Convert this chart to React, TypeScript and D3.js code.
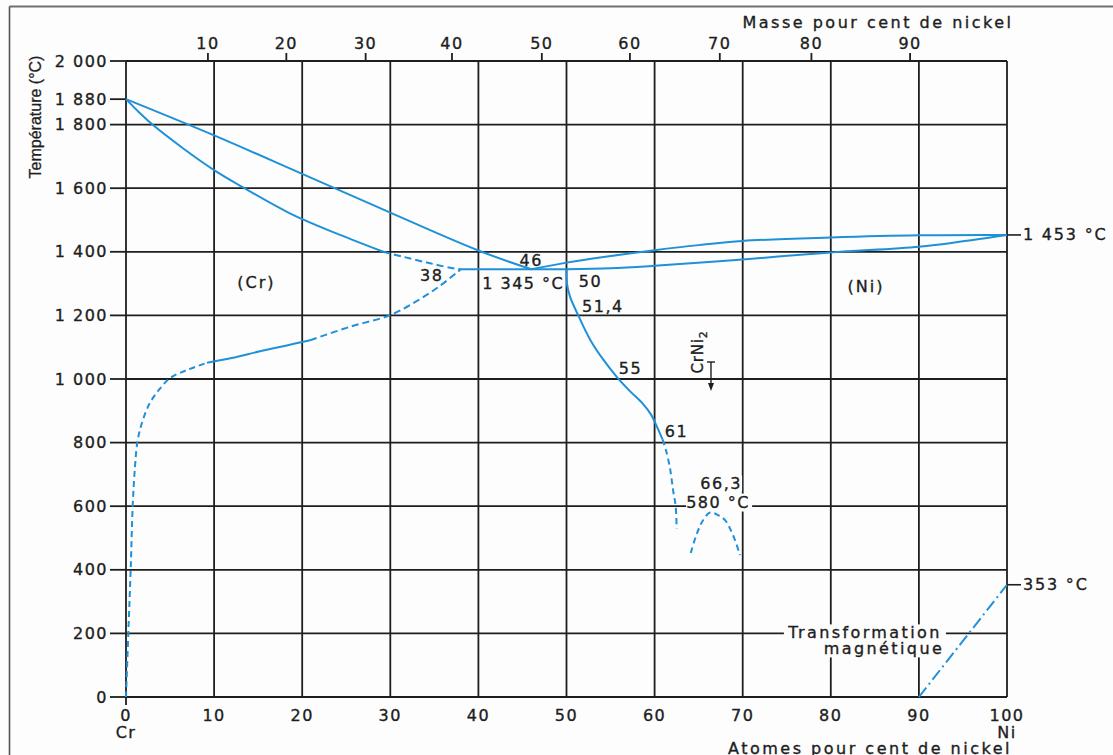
import React from 'react';
import * as d3 from 'd3';

// Cr–Ni phase diagram: temperature (°C) against atomic percent of nickel.
type Pt = [number, number];

const atomicTicks = [0, 10, 20, 30, 40, 50, 60, 70, 80, 90, 100];
const gridTemps = [0, 200, 400, 600, 800, 1000, 1200, 1400, 1600, 1800, 2000];
const tempTicks = [0, 200, 400, 600, 800, 1000, 1200, 1400, 1600, 1800, 1880, 2000];
// mass-percent scale on top, with the atomic-percent position of each tick
const massTickLabels = [10, 20, 30, 40, 50, 60, 70, 80, 90];
const massTickAtomic = [9.3, 18.2, 27.2, 37.0, 47.2, 57.2, 67.4, 77.8, 89.0];

// liquidus and solidus on the chromium side
const liquidusCr: Pt[] = [[0, 1880], [10, 1766], [20, 1645], [30, 1523], [40, 1404], [46, 1345]];
const solidusCr: Pt[] = [[0, 1880], [1.5, 1838], [3, 1800], [6.5, 1725], [10, 1657], [13.2, 1604], [18.6, 1521], [24.3, 1453], [29.2, 1400]];
const solidusCrDashed: Pt[] = [[29.2, 1400], [31.5, 1384], [34.5, 1364], [37.3, 1347], [38, 1345]];
// eutectic at 1 345 °C
const eutectic: Pt[] = [[38, 1345], [50, 1345]];
// liquidus and solidus on the nickel side
const liquidusNi: Pt[] = [[46, 1345], [50, 1366], [54, 1383], [60, 1405], [65, 1421], [70, 1434], [80, 1445], [90, 1452], [100, 1453]];
const solidusNi: Pt[] = [[50, 1345], [55, 1348], [60, 1356], [70, 1376], [80, 1398], [90, 1416], [95, 1433], [100, 1453]];
// solvus of the (Cr) solid solution
const solvusCrLow: Pt[] = [[0, 0], [0.26, 200], [0.53, 400], [0.76, 600], [1.02, 724], [1.3, 803], [1.8, 861], [2.7, 924], [3.9, 971], [5, 1003], [6.9, 1028], [9.2, 1051]];
const solvusCrMid: Pt[] = [[9.2, 1051], [12, 1066], [15.2, 1087], [18, 1104], [20.9, 1122]];
const solvusCrHigh: Pt[] = [[20.9, 1122], [25.4, 1164], [30, 1201], [33, 1245], [35.5, 1290], [38, 1345]];
// solvus of the (Ni) solid solution
const solvusNi: Pt[] = [[50, 1345], [50.05, 1300], [50.4, 1259], [51.4, 1196], [52.7, 1123], [54.2, 1060], [55.7, 1007], [57.2, 962], [58.6, 924], [59.6, 888], [60.3, 848], [60.9, 810]];
const solvusNiDashed: Pt[] = [[60.9, 810], [61.3, 775], [61.75, 719], [62.1, 650], [62.4, 598], [62.5, 530]];
// CrNi2 ordering dome, maximum at 66,3 / 580 °C
const crNi2Dome: Pt[] = [[64.1, 453], [64.8, 514], [65.5, 556], [66.3, 580], [67.2, 572], [68, 556], [68.9, 509], [69.7, 446]];
const crNi2At = 66.4;
// magnetic transformation of nickel
const magnetic: Pt[] = [[90, 0], [100, 353]];
const niMelting = 1453;
const niCurie = 353;

const W = 1113;
const H = 755;
const x = d3.scaleLinear().domain([0, 100]).range([126, 1007]);
const y = d3.scaleLinear().domain([0, 2000]).range([697, 61]);

const fr = d3.formatLocale({ decimal: ',', thousands: ' ', grouping: [3], currency: ['', ' €'] });
const fmt = fr.format(',');

const line = d3.line<Pt>().x(d => x(d[0])).y(d => y(d[1])).curve(d3.curveCatmullRom.alpha(0.5));
const straight = d3.line<Pt>().x(d => x(d[0])).y(d => y(d[1]));

const BLUE = '#1f91d8';
const INK = '#1e1e1e';
const FONT = 'DejaVu Sans, sans-serif';

const txt = (ls = 1.5) => ({ fontFamily: FONT, fontSize: 16, fill: INK, stroke: INK, strokeWidth: 0.35, letterSpacing: ls } as const);

export default function App() {
  const left = x(0), right = x(100), top = y(2000), bottom = y(0);
  const curve = (d: Pt[], dash?: string, gen = line) => (
    <path d={gen(d) || ''} fill="none" stroke={BLUE} strokeWidth={2} strokeDasharray={dash} strokeLinejoin="round" />
  );
  const peak = crNi2Dome[3];
  const solEnd = solvusNi[solvusNi.length - 1];
  return (
    <svg width={W} height={H} style={{ position: 'absolute', left: 0, top: 0, background: '#fdfdfd' }}>
      <rect x={0} y={0} width={W} height={H} fill="#fdfdfd" />
      {/* frame */}
      <line x1={9.5} y1={6.5} x2={W} y2={6.5} stroke="#707070" strokeWidth={2} />
      <line x1={9.5} y1={6.5} x2={9.5} y2={H} stroke="#555" strokeWidth={1.6} />

      {/* grid */}
      {atomicTicks.map(v => (
        <line key={'gv' + v} x1={x(v)} x2={x(v)} y1={top} y2={bottom + (v === 0 ? 8 : 0)} stroke={INK} strokeWidth={1.8} />
      ))}
      {gridTemps.map(t => (
        <line key={'gh' + t} x1={left} x2={right} y1={y(t)} y2={y(t)} stroke={INK} strokeWidth={1.8} />
      ))}

      {/* temperature axis */}
      {tempTicks.map(t => (
        <g key={'yt' + t}>
          <line x1={left - 16} x2={left} y1={y(t)} y2={y(t)} stroke={INK} strokeWidth={1.8} />
          <text x={left - 18} y={y(t)} textAnchor="end" dominantBaseline="central" {...txt(1.5)}>{fmt(t)}</text>
        </g>
      ))}
      <text transform={`translate(35,117) rotate(-90)`} textAnchor="middle" dominantBaseline="central"
        fontFamily="Liberation Sans, Arial, sans-serif" fontSize={16} fill={INK} stroke={INK} strokeWidth={0.3}>Température (°C)</text>

      {/* atomic percent axis */}
      {atomicTicks.map(v => (
        <text key={'xb' + v} x={x(v)} y={bottom + 18} textAnchor="middle" dominantBaseline="central" {...txt(1.5)}>{v}</text>
      ))}
      <text x={x(0)} y={bottom + 35} textAnchor="middle" dominantBaseline="central" {...txt(1.5)}>Cr</text>
      <text x={x(100)} y={bottom + 35} textAnchor="middle" dominantBaseline="central" {...txt(1.5)}>Ni</text>
      <text x={870} y={bottom + 51} textAnchor="middle" dominantBaseline="central" {...txt(2.5)}>Atomes pour cent de nickel</text>

      {/* mass percent axis */}
      {massTickLabels.map((m, i) => (
        <g key={'xm' + m}>
          <line x1={x(massTickAtomic[i])} x2={x(massTickAtomic[i])} y1={top - 8} y2={top} stroke={INK} strokeWidth={1.8} />
          <text x={x(massTickAtomic[i])} y={top - 18} textAnchor="middle" dominantBaseline="central" {...txt(1.5)}>{m}</text>
        </g>
      ))}
      <text x={878} y={22} textAnchor="middle" dominantBaseline="central" {...txt(2.5)}>Masse pour cent de nickel</text>

      {/* label backgrounds */}
      <rect x={x(peak[0]) - 24} y={y(peak[1]) - 19} width={66} height={18} fill="#fdfdfd" />
      <rect x={x(peak[0]) - 15} y={y(peak[1]) - 37} width={47} height={16} fill="#fdfdfd" />
      <rect x={x(90) - 135} y={y(200) - 9} width={162} height={17} fill="#fdfdfd" />
      <rect x={x(90) - 100} y={y(200) + 7} width={127} height={17} fill="#fdfdfd" />

      {/* phase boundaries */}
      {curve(liquidusCr)}
      {curve(solidusCr)}
      {curve(solidusCrDashed, '7 4')}
      {curve(eutectic, undefined, straight)}
      {curve(liquidusNi)}
      {curve(solidusNi)}
      {curve(solvusCrLow, '6 4')}
      {curve(solvusCrMid)}
      {curve(solvusCrHigh, '7 4')}
      {curve(solvusNi)}
      {curve(solvusNiDashed, '6 4')}
      {curve(crNi2Dome, '6 4')}
      {curve(magnetic, '12 4 2 4', straight)}

      {/* right-hand temperature marks */}
      <line x1={right} x2={right + 14} y1={y(niMelting)} y2={y(niMelting)} stroke={INK} strokeWidth={1.6} />
      <text x={right + 16} y={y(niMelting)} dominantBaseline="central" {...txt(1.8)}>{fmt(niMelting)} °C</text>
      <line x1={right} x2={right + 14} y1={y(niCurie)} y2={y(niCurie)} stroke={INK} strokeWidth={1.6} />
      <text x={right + 16} y={y(niCurie)} dominantBaseline="central" {...txt(1.8)}>{fmt(niCurie)} °C</text>

      {/* point labels */}
      <text x={x(46)} y={y(1345) - 9} textAnchor="middle" dominantBaseline="central" {...txt(1.5)}>46</text>
      <text x={x(38) - 29} y={y(1345) + 6} textAnchor="middle" dominantBaseline="central" {...txt(1.5)}>38</text>
      <text x={x(46) - 8} y={y(1345) + 14} textAnchor="middle" dominantBaseline="central" {...txt(1.5)}>{fmt(1345)} °C</text>
      <text x={x(50) + 24} y={y(1345) + 12} textAnchor="middle" dominantBaseline="central" {...txt(1.5)}>50</text>
      <text x={x(51.4) + 24} y={y(1200) - 9} textAnchor="middle" dominantBaseline="central" {...txt(1.5)}>51,4</text>
      <text x={x(55) + 20} y={y(1000) - 11} textAnchor="middle" dominantBaseline="central" {...txt(1.5)}>55</text>
      <text x={x(solEnd[0]) + 14} y={y(solEnd[1]) - 8} textAnchor="middle" dominantBaseline="central" {...txt(1.5)}>61</text>
      <text x={x(peak[0]) + 11} y={y(peak[1]) - 29} textAnchor="middle" dominantBaseline="central" {...txt(1.5)}>66,3</text>
      <text x={x(peak[0]) + 8} y={y(peak[1]) - 10} textAnchor="middle" dominantBaseline="central" {...txt(1.5)}>{peak[1]} °C</text>

      {/* phase fields */}
      <text x={x(14.8)} y={y(1302)} textAnchor="middle" dominantBaseline="central" {...txt(2)}>(Cr)</text>
      <text x={x(84)} y={y(1290)} textAnchor="middle" dominantBaseline="central" {...txt(2)}>(Ni)</text>

      {/* CrNi2 composition marker */}
      <text transform={`translate(${x(crNi2At) - 8},352) rotate(-90)`} textAnchor="middle" {...txt(0.8)} fontSize={15}>
        CrNi<tspan fontSize={11} dy={4}>2</tspan>
      </text>
      <line x1={x(crNi2At) - 4} x2={x(crNi2At) + 4} y1={362} y2={362} stroke={INK} strokeWidth={1.4} />
      <line x1={x(crNi2At)} x2={x(crNi2At)} y1={362} y2={384} stroke={INK} strokeWidth={1.4} />
      <path d={`M${x(crNi2At) - 3},383 L${x(crNi2At) + 3},383 L${x(crNi2At)},391 Z`} fill={INK} />

      {/* magnetic transformation note */}
      <text x={865} y={y(200) - 1} textAnchor="middle" dominantBaseline="central" {...txt(2.4)}>Transformation</text>
      <text x={884} y={y(200) + 15} textAnchor="middle" dominantBaseline="central" {...txt(2.4)}>magnétique</text>
    </svg>
  );
}
